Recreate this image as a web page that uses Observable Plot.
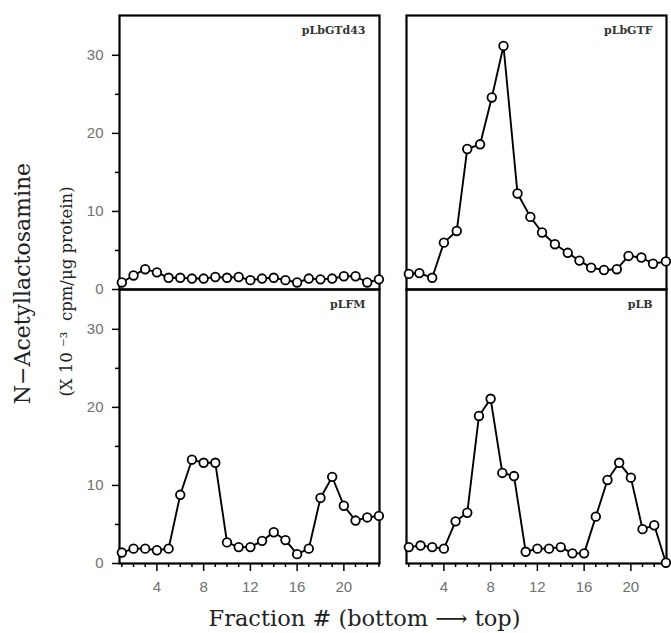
<!DOCTYPE html>
<html><head><meta charset="utf-8">
<script src="https://cdn.jsdelivr.net/npm/d3@7"></script>
<script src="https://cdn.jsdelivr.net/npm/@observablehq/plot@0.6"></script>
<style>
html,body{margin:0;padding:0;background:#fff;}
</style>
</head><body><div id="chart"></div>
<script>
const panelNames = ["pLbGTd43", "pLbGTF", "pLFM", "pLB"];
const panelCols = ["left", "right", "left", "right"];
const panelRows = ["top", "top", "bottom", "bottom"];

const fractions = [1,2,3,4,5,6,7,8,9,10,11,12,13,14,15,16,17,18,19,20,21,22,23];
const pLbGTFFractions = [1.0,1.9,3.0,4.0,5.1,6.0,7.1,8.1,9.1,10.3,11.4,12.4,13.5,14.6,15.6,16.6,17.7,18.8,19.8,20.9,21.9,23.0];

const pLbGTd43 = [0.9,1.8,2.6,2.2,1.5,1.5,1.4,1.4,1.6,1.5,1.6,1.2,1.4,1.5,1.2,0.9,1.4,1.3,1.4,1.7,1.7,0.9,1.3];
const pLbGTF = [2.0,2.1,1.5,6.0,7.5,18.0,18.6,24.6,31.2,12.3,9.3,7.3,5.8,4.7,3.7,2.8,2.5,2.6,4.3,4.1,3.3,3.6];
const pLFM = [1.4,1.9,1.9,1.7,1.9,8.8,13.3,12.9,12.9,2.7,2.1,2.1,2.9,4.0,3.0,1.2,1.9,8.4,11.1,7.4,5.5,5.9,6.1];
const pLB = [2.1,2.3,2.1,1.9,5.4,6.5,18.9,21.1,11.6,11.2,1.5,1.9,1.9,2.1,1.3,1.3,6.0,10.7,12.9,11.0,4.4,4.9,0.1];

const yMajorTicks = [0, 10, 20, 30];
const yMinorTicks = [5, 15, 25];
const xMajorTicks = [4, 8, 12, 16, 20];
const xMinorTicks = [1,2,3,5,6,7,9,10,11,13,14,15,17,18,19,21,22,23];

const yLabel = "N\u2212Acetyllactosamine";
const yUnitLabel = "(X 10 \u207B\u00B3  cpm/\u03BCg protein)";
const xLabel = "Fraction # (bottom \u27F6 top)";

const series = [
  {values: pLbGTd43, fr: fractions},
  {values: pLbGTF, fr: pLbGTFFractions},
  {values: pLFM, fr: fractions},
  {values: pLB, fr: fractions}
];
const rows = series.flatMap((s, i) => s.values.map((v, j) => ({
  panel: panelNames[i], col: panelCols[i], row: panelRows[i], frac: s.fr[j], val: v
})));
const panels = panelNames.map((name, i) => ({name, col: panelCols[i], row: panelRows[i]}));

const serif = "DejaVu Serif";
const chart = Plot.plot({
  width: 671,
  height: 633,
  marginLeft: 119,
  marginRight: 4,
  marginTop: 15,
  marginBottom: 70,
  style: {fontFamily: "Liberation Sans", fontSize: "15px", background: "#fff", color: "#000"},
  fx: {domain: ["left", "right"], paddingInner: 0.094, paddingOuter: 0, axis: null},
  fy: {domain: ["top", "bottom"], paddingInner: 0, paddingOuter: 0, axis: null},
  x: {domain: [0.8, 23.05]},
  y: {domain: [0, 35.1]},
  marks: [
    Plot.axisY(yMajorTicks, {tickSize: 7, tickPadding: 9, strokeWidth: 1.5, stroke: "#000", fill: "#707070", label: null}),
    Plot.axisY(yMinorTicks, {tickSize: 4, strokeWidth: 1.5, stroke: "#000", fill: "none", label: null}),
    Plot.axisX(xMajorTicks, {tickSize: 8, tickPadding: 10, strokeWidth: 1.5, stroke: "#000", fill: "#707070", label: null}),
    Plot.axisX(xMinorTicks, {tickSize: 4, strokeWidth: 1.5, stroke: "#000", fill: "none", label: null}),
    Plot.frame({stroke: "#000", strokeWidth: 2.2}),
    Plot.line(rows, {x: "frac", y: "val", fx: "col", fy: "row", z: "panel", stroke: "#000", strokeWidth: 1.9}),
    Plot.dot(rows, {x: "frac", y: "val", fx: "col", fy: "row", r: 4.3, fill: "#fff", stroke: "#000", strokeWidth: 1.8}),
    Plot.text(panels, {fx: "col", fy: "row", text: "name", frameAnchor: "top-right", dx: -14, dy: 15,
      lineAnchor: "middle", textAnchor: "end", fontFamily: serif, fontWeight: "bold", fontSize: 11, fill: "#333"}),
    Plot.text([{t: yLabel, col: "left", row: "top"}], {fx: "col", fy: "row", text: "t", frameAnchor: "bottom-left",
      rotate: -90, dx: -97, dy: -6, lineAnchor: "middle", textAnchor: "middle", fontFamily: serif, fontSize: 22, fill: "#222"}),
    Plot.text([{t: yUnitLabel, col: "left", row: "top"}], {fx: "col", fy: "row", text: "t", frameAnchor: "bottom-left",
      rotate: -90, dx: -53, dy: 2, lineAnchor: "middle", textAnchor: "middle", fontFamily: serif, fontSize: 16.5, fill: "#222"}),
    Plot.text([{t: xLabel, col: "left", row: "bottom"}], {fx: "col", fy: "row", text: "t", frameAnchor: "bottom-right",
      dx: -15, dy: 55, lineAnchor: "middle", textAnchor: "middle", fontFamily: serif, fontSize: 22.5, fill: "#222"})
  ]
});
document.getElementById("chart").append(chart);
</script>
</body></html>
